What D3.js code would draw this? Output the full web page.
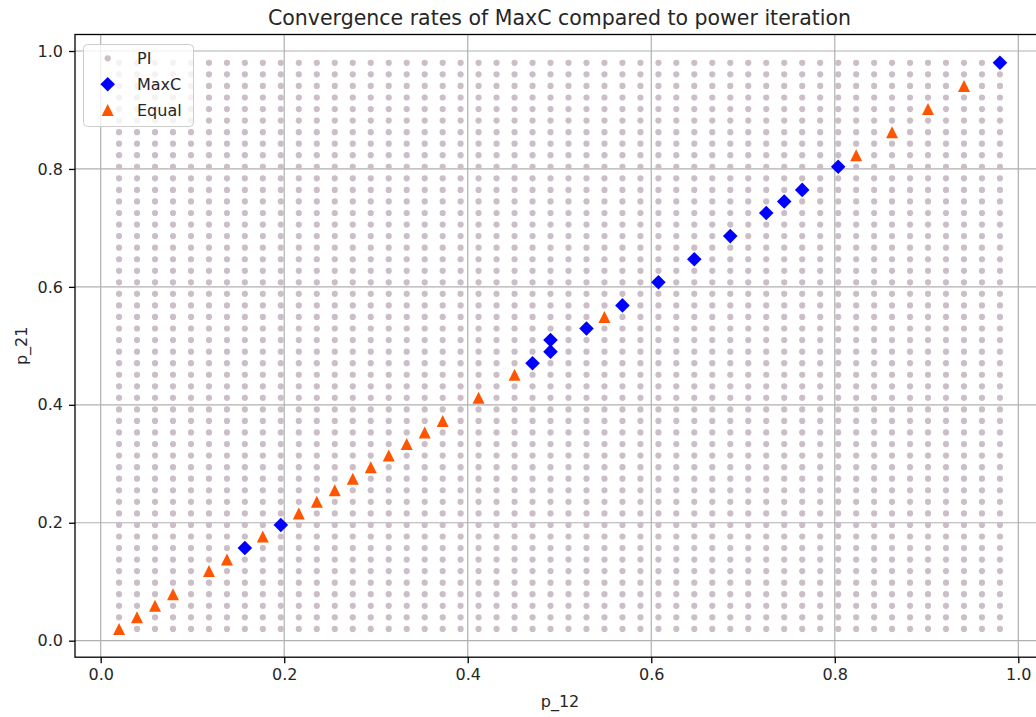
<!DOCTYPE html>
<html>
<head>
<meta charset="utf-8">
<script src="https://cdn.jsdelivr.net/npm/d3@7"></script>
<style>
  html, body { margin: 0; padding: 0; background: #fff; }
  svg { display: block; }
  text { font-family: "DejaVu Sans", sans-serif; fill: #262626; }
</style>
</head>
<body>
<svg id="chart" width="1036" height="717"></svg>
<script>
// ---- data ----
const gridLevels = [0.0200,0.0396,0.0592,0.0788,0.0984,0.1180,0.1376,0.1571,0.1767,0.1963,
  0.2159,0.2355,0.2551,0.2747,0.2943,0.3139,0.3335,0.3531,0.3727,0.3922,
  0.4118,0.4314,0.4510,0.4706,0.4902,0.5098,0.5294,0.5490,0.5686,0.5882,
  0.6078,0.6273,0.6469,0.6665,0.6861,0.7057,0.7253,0.7449,0.7645,0.7841,
  0.8037,0.8233,0.8429,0.8624,0.8820,0.9016,0.9212,0.9408,0.9604,0.9800];

const maxcX = [0.1571,0.1963,0.4706,0.4902,0.4902,0.5294,0.5686,0.6078,0.6469,0.6861,0.7253,0.7449,0.7645,0.8037,0.9800];
const maxcY = [0.1571,0.1963,0.4706,0.4902,0.5098,0.5294,0.5686,0.6078,0.6469,0.6861,0.7253,0.7449,0.7645,0.8037,0.9800];

const equalX = [0.0200,0.0396,0.0592,0.0788,0.1180,0.1376,0.1767,0.2159,0.2355,0.2551,0.2747,0.2943,0.3139,0.3335,0.3531,0.3727,0.4118,0.4510,0.5490,0.8233,0.8624,0.9016,0.9408];
const equalY = [0.0200,0.0396,0.0592,0.0788,0.1180,0.1376,0.1767,0.2159,0.2355,0.2551,0.2747,0.2943,0.3139,0.3335,0.3531,0.3727,0.4118,0.4510,0.5490,0.8233,0.8624,0.9016,0.9408];

const tickValues = [0.0, 0.2, 0.4, 0.6, 0.8, 1.0];
const tickLabels = ["0.0", "0.2", "0.4", "0.6", "0.8", "1.0"];

const titleText = "Convergence rates of MaxC compared to power iteration";
const xLabelText = "p_12";
const yLabelText = "p_21";
const seriesNames = ["PI", "MaxC", "Equal"];

(function () {
// ---- build point tables ----
const maxc = maxcX.map((v, i) => ({x: v, y: maxcY[i]}));
const equal = equalX.map((v, i) => ({x: v, y: equalY[i]}));
const taken = new Set([...maxc, ...equal].map(d => d.x.toFixed(4) + "," + d.y.toFixed(4)));
const pi = [];
gridLevels.forEach(xv => gridLevels.forEach(yv => {
  if (!taken.has(xv.toFixed(4) + "," + yv.toFixed(4))) pi.push({x: xv, y: yv});
}));

// ---- layout ----
const svg = d3.select("#chart");
const pL = 75, pR = 1044, pT = 34.5, pB = 657.2;
const x = d3.scaleLinear().domain([-0.028, 1.028]).range([pL, pR]);
const y = d3.scaleLinear().domain([-0.028, 1.028]).range([pB, pT]);

const colPI = "#cbbec8", colMaxC = "#0000ff", colEqual = "#ff5500";

// grid
const grid = svg.append("g");
grid.selectAll(".gx").data(tickValues).join("line").attr("class", "gx")
  .attr("x1", d => x(d)).attr("x2", d => x(d)).attr("y1", pT).attr("y2", pB)
  .attr("stroke", "#b0b0b0").attr("stroke-width", 1.2);
grid.selectAll(".gy").data(tickValues).join("line").attr("class", "gy")
  .attr("y1", d => y(d)).attr("y2", d => y(d)).attr("x1", pL).attr("x2", pR)
  .attr("stroke", "#b0b0b0").attr("stroke-width", 1.2);

// PI dots
svg.append("g").selectAll("circle").data(pi).join("circle")
  .attr("cx", d => x(d.x)).attr("cy", d => y(d.y)).attr("r", 3.1)
  .attr("fill", colPI);

const diamond = (cx, cy, r) => `M${cx},${cy - r}L${cx + r},${cy}L${cx},${cy + r}L${cx - r},${cy}Z`;
const triangle = (cx, cy, h) => `M${cx},${cy - h}L${cx + h},${cy + h}L${cx - h},${cy + h}Z`;

// MaxC
svg.append("g").selectAll("path").data(maxc).join("path")
  .attr("d", d => diamond(x(d.x), y(d.y), 7.3)).attr("fill", colMaxC);
// Equal
svg.append("g").selectAll("path").data(equal).join("path")
  .attr("d", d => triangle(x(d.x), y(d.y), 6)).attr("fill", colEqual);

// axes
const xAxis = d3.axisBottom(x).tickValues(tickValues).tickFormat((d, i) => tickLabels[i])
  .tickSize(6).tickPadding(5);
const yAxis = d3.axisLeft(y).tickValues(tickValues).tickFormat((d, i) => tickLabels[i])
  .tickSize(6).tickPadding(6);
const gx = svg.append("g").attr("transform", `translate(0,${pB})`).call(xAxis);
const gy = svg.append("g").attr("transform", `translate(${pL},0)`).call(yAxis);
[gx, gy].forEach(g => {
  g.select(".domain").remove();
  g.selectAll(".tick line").attr("stroke", "#000").attr("stroke-width", 1.3);
  g.selectAll(".tick text").attr("font-size", 16).attr("font-family", "DejaVu Sans").attr("fill", "#262626");
});

// spines
svg.append("rect").attr("x", pL).attr("y", pT).attr("width", pR - pL).attr("height", pB - pT)
  .attr("fill", "none").attr("stroke", "#000").attr("stroke-width", 1.3);

// title and labels
svg.append("text").attr("x", (pL + pR) / 2).attr("y", 25).attr("text-anchor", "middle")
  .attr("font-size", 20.5).text(titleText);
svg.append("text").attr("x", 560).attr("y", 707).attr("text-anchor", "middle")
  .attr("font-size", 16).text(xLabelText);
svg.append("text").attr("transform", `translate(27,${(pT + pB) / 2}) rotate(-90)`)
  .attr("text-anchor", "middle").attr("font-size", 16).text(yLabelText);

// legend
const lg = svg.append("g");
lg.append("rect").attr("x", 83.5).attr("y", 44.5).attr("width", 110).attr("height", 82).attr("rx", 4)
  .attr("fill", "#fff").attr("fill-opacity", 0.8).attr("stroke", "#cccccc").attr("stroke-width", 1);
const rows = [58.3, 84.3, 110];
lg.append("circle").attr("cx", 107.7).attr("cy", rows[0]).attr("r", 3.1).attr("fill", colPI);
lg.append("path").attr("d", diamond(107.7, rows[1], 7.3)).attr("fill", colMaxC);
lg.append("path").attr("d", triangle(107.7, rows[2], 6)).attr("fill", colEqual);
seriesNames.forEach((n, i) => {
  lg.append("text").attr("x", 137).attr("y", rows[i] + 6).attr("font-size", 16).text(n);
});
})();
</script>
</body>
</html>
